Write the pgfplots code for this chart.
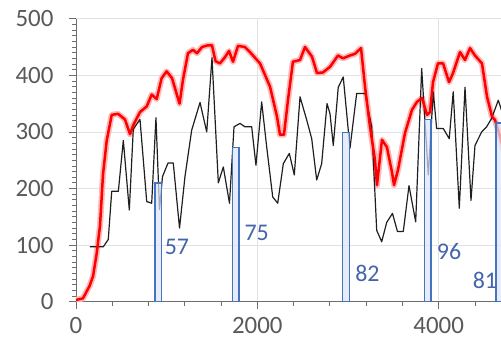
\documentclass[border=0pt]{standalone}
\usepackage{pgfplots}
\pgfplotsset{compat=1.18}
\usepackage{fontspec}
\setmainfont{Carlito}
\definecolor{tickgray}{RGB}{89,89,89}
\definecolor{axgray}{RGB}{110,110,110}
\definecolor{gridgray}{RGB}{226,226,226}
\definecolor{barblue}{RGB}{68,114,196}
\definecolor{lblblue}{RGB}{68,100,170}
\definecolor{redline}{RGB}{255,0,0}
\begin{document}
\begin{tikzpicture}
\begin{axis}[
  at={(0,0)}, anchor=south west,
  scale only axis, width=425bp, height=283bp,
  xmin=0, xmax=4688, ymin=0, ymax=500,
  axis x line=bottom, axis y line=left,
  axis line style={axgray, line width=0.9bp, -},
  xtick={0,2000,4000}, minor xtick={400,800,1200,1600,2400,2800,3200,3600,4400},
  ytick={0,100,...,500}, minor y tick num=9,
  tick align=outside,
  major tick length=7bp, minor tick length=4bp,
  tick style={axgray, line width=0.7bp},
  grid=major, major grid style={gridgray, line width=0.8bp},
  ticklabel style={font=\fontsize{25}{26}\selectfont, text=tickgray},
  xticklabel style={yshift=-7bp, inner sep=1bp},
  yticklabel style={xshift=-12bp},
  /pgf/number format/assume math mode=true,
  /pgf/number format/1000 sep={},
  scaled x ticks=false,
  clip=true,
]
\addplot[red!28, line width=6bp, line join=round] coordinates {
(0,3)(77,6)(150,28)(188,45)(228,85)(265,135)(298,225)(339,285)(394,330)(463,332)(540,322)(596,296)(632,312)(706,335)(780,345)(835,366)(890,358)(945,395)(1000,407)(1059,395)(1142,350)(1180,392)(1235,439)(1290,445)(1335,439)(1390,450)(1456,453)(1500,453)(1539,425)(1588,421)(1643,432)(1688,443)(1732,424)(1787,452)(1864,450)(1919,441)(2030,421)(2140,380)(2217,327)(2250,295)(2294,295)(2338,356)(2393,424)(2471,427)(2526,450)(2603,433)(2658,404)(2724,405)(2802,415)(2890,435)(2945,430)(3022,435)(3077,438)(3144,448)(3188,380)(3243,309)(3298,250)(3320,206)(3375,286)(3430,273)(3485,229)(3508,206)(3552,233)(3629,298)(3706,339)(3761,353)(3817,360)(3872,330)(3905,335)(3938,388)(3993,421)(4049,421)(4115,388)(4159,404)(4236,441)(4291,427)(4346,448)(4401,435)(4478,421)(4534,362)(4589,327)(4622,321)(4677,292)(4730,260)
};
\addplot[black!88, line width=1.2bp, line join=round] coordinates {
(154,97)(301,97)(356,110)(394,195)(467,195)(522,285)(588,162)(632,305)(706,322)(780,177)(835,174)(882,325)(921,163)(954,221)(1015,245)(1073,245)(1142,130)(1202,221)(1276,303)(1368,352)(1442,300)(1500,431)(1570,210)(1625,238)(1693,174)(1743,309)(1809,315)(1864,309)(1938,309)(1985,241)(2048,353)(2103,274)(2170,185)(2225,174)(2287,244)(2353,262)(2408,224)(2471,362)(2545,321)(2600,288)(2655,215)(2710,244)(2769,350)(2802,332)(2838,276)(2893,379)(2948,397)(3022,271)(3096,368)(3188,368)(3262,309)(3317,126)(3372,106)(3427,140)(3491,156)(3546,124)(3610,124)(3673,205)(3747,141)(3813,412)(3886,224)(3941,371)(3978,306)(4051,306)(4117,288)(4161,371)(4228,165)(4291,379)(4357,179)(4401,276)(4475,300)(4530,309)(4585,324)(4658,356)(4710,330)
};
\addplot[redline, line width=2.5bp, line join=round] coordinates {
(0,3)(77,6)(150,28)(188,45)(228,85)(265,135)(298,225)(339,285)(394,330)(463,332)(540,322)(596,296)(632,312)(706,335)(780,345)(835,366)(890,358)(945,395)(1000,407)(1059,395)(1142,350)(1180,392)(1235,439)(1290,445)(1335,439)(1390,450)(1456,453)(1500,453)(1539,425)(1588,421)(1643,432)(1688,443)(1732,424)(1787,452)(1864,450)(1919,441)(2030,421)(2140,380)(2217,327)(2250,295)(2294,295)(2338,356)(2393,424)(2471,427)(2526,450)(2603,433)(2658,404)(2724,405)(2802,415)(2890,435)(2945,430)(3022,435)(3077,438)(3144,448)(3188,380)(3243,309)(3298,250)(3320,206)(3375,286)(3430,273)(3485,229)(3508,206)(3552,233)(3629,298)(3706,339)(3761,353)(3817,360)(3872,330)(3905,335)(3938,388)(3993,421)(4049,421)(4115,388)(4159,404)(4236,441)(4291,427)(4346,448)(4401,435)(4478,421)(4534,362)(4589,327)(4622,321)(4677,292)(4730,260)
};
\addplot[ybar, bar width=75, draw=barblue, line width=1.5bp, fill=barblue!18, fill opacity=0.7] coordinates {
(908,210)(1763,272)(2977,299)(3881,322)(4671,316)
};
\node[text=lblblue, font=\fontsize{24}{25}\selectfont] at (axis cs:1114,97) {57};
\node[text=lblblue, font=\fontsize{24}{25}\selectfont] at (axis cs:1993,121) {75};
\node[text=lblblue, font=\fontsize{24}{25}\selectfont] at (axis cs:3215,50) {82};
\node[text=lblblue, font=\fontsize{24}{25}\selectfont] at (axis cs:4115,88) {96};
\node[text=lblblue, font=\fontsize{24}{25}\selectfont] at (axis cs:4511,38) {81};
\end{axis}
\pgfresetboundingbox
\path[use as bounding box] (-76bp,-42.3bp) rectangle (425bp,301.7bp);
\end{tikzpicture}
\end{document}
